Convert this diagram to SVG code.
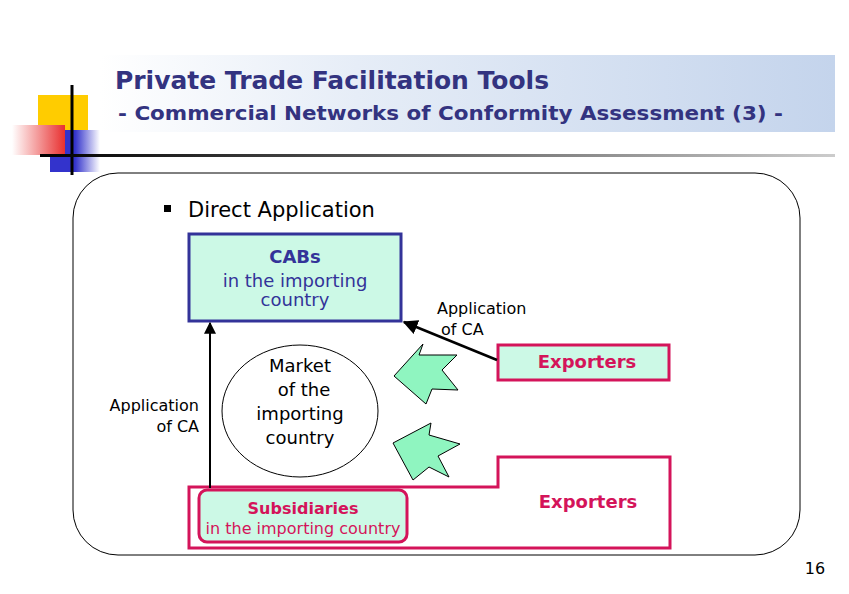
<svg xmlns="http://www.w3.org/2000/svg" width="849" height="594" viewBox="0 0 849 594">
<defs>
<linearGradient id="tb" x1="0" y1="0" x2="1" y2="0"><stop offset="0" stop-color="#fff"/><stop offset="0.35" stop-color="#e6edf7"/><stop offset="1" stop-color="#c4d4ec"/></linearGradient>
<linearGradient id="ln" x1="0" y1="0" x2="1" y2="0"><stop offset="0" stop-color="#000"/><stop offset="1" stop-color="#ccc"/></linearGradient>
<linearGradient id="rd" x1="0" y1="0" x2="1" y2="0"><stop offset="0" stop-color="#fff"/><stop offset="1" stop-color="#e83030"/></linearGradient>
<linearGradient id="bl" x1="0" y1="0" x2="1" y2="0"><stop offset="0.5" stop-color="#3333cc"/><stop offset="1" stop-color="#fff"/></linearGradient>
<marker id="ah" viewBox="0 0 10 10" refX="9" refY="5" markerWidth="6" markerHeight="6" orient="auto"><path d="M0,0L10,5L0,10z" fill="#000"/></marker>
<style>
text{font-family:Tahoma,"DejaVu Sans",sans-serif}
.t{fill:#333380;font-weight:bold}
.nv{fill:#333399}
.pk{fill:#d4145a;font-weight:bold}
.bk{fill:#000}
.ar{fill:#8ff5c0;stroke:#000;stroke-width:1}
</style>
</defs>
<rect width="849" height="594" fill="#fff"/>
<g id="title">
<rect x="100" y="55" width="735" height="77" fill="url(#tb)"/>
<rect x="38" y="95" width="50" height="36" fill="#ffcc00"/>
<rect x="50" y="130" width="50" height="42" fill="url(#bl)"/>
<rect x="12" y="125" width="53" height="30" fill="url(#rd)"/>
<line x1="72" y1="85" x2="72" y2="175" stroke="#000" stroke-width="3"/>
<rect x="40" y="154" width="795" height="3" fill="url(#ln)"/>
<text x="115" y="89" class="t" font-size="24" textLength="434" lengthAdjust="spacingAndGlyphs">Private Trade Facilitation Tools</text>
<text x="118" y="120" class="t" font-size="20" textLength="665" lengthAdjust="spacingAndGlyphs">- Commercial Networks of Conformity Assessment (3) -</text>
</g>
<g id="frame"><rect x="73" y="173" width="727" height="382" rx="45" fill="none" stroke="#000" stroke-width="1"/></g>
<g id="bullet">
<rect x="164" y="205" width="7" height="7" fill="#000"/>
<text x="188" y="217" font-size="21" class="bk">Direct Application</text>
</g>
<g id="cabs">
<rect x="189" y="234" width="212" height="87" fill="#ccf9e6" stroke="#333399" stroke-width="3"/>
<text x="295" y="263" class="nv" font-size="18" font-weight="bold" text-anchor="middle">CABs</text>
<text x="295" y="287" class="nv" font-size="18" text-anchor="middle">in the importing</text>
<text x="295" y="306" class="nv" font-size="18" text-anchor="middle">country</text>
</g>
<g id="market">
<ellipse cx="300" cy="411" rx="78" ry="66" fill="#fff" stroke="#000" stroke-width="1"/>
<text text-anchor="middle" font-size="18" class="bk"><tspan x="300" y="372">Market</tspan><tspan x="304" y="396">of the</tspan><tspan x="300" y="420">importing</tspan><tspan x="300" y="444">country</tspan></text>
</g>
<g id="exporters-outer">
<path d="M189,487H498V457H670V548H189Z" fill="#fff" stroke="#d4145a" stroke-width="3"/>
<text x="588" y="508" class="pk" font-size="18" text-anchor="middle">Exporters</text>
</g>
<g id="subsidiaries">
<rect x="199" y="490" width="208" height="52" rx="8" fill="#ccf9e6" stroke="#d4145a" stroke-width="3"/>
<text x="303" y="514" class="pk" font-size="16" text-anchor="middle">Subsidiaries</text>
<text x="303" y="534" font-size="16" fill="#d4145a" text-anchor="middle">in the importing country</text>
</g>
<g id="exporters-top">
<rect x="498" y="345" width="171" height="35" fill="#ccf9e6" stroke="#d4145a" stroke-width="3"/>
<text x="587" y="368" class="pk" font-size="18" text-anchor="middle">Exporters</text>
</g>
<g id="connectors">
<line x1="210" y1="488" x2="210" y2="323" stroke="#000" stroke-width="2" marker-end="url(#ah)"/>
<line x1="497" y1="360" x2="404" y2="322" stroke="#000" stroke-width="2.5" marker-end="url(#ah)"/>
<polygon class="ar" points="394,376 423,344 419,355 457,355 442,370 458,390 432,389 426,404"/>
<polygon class="ar" points="393,443 431,423 429,435 460,444 438,456 449,477 429,467 413,480"/>
<text font-size="16" class="bk" text-anchor="end"><tspan x="199" y="411">Application</tspan><tspan x="199" y="432">of CA</tspan></text>
<text font-size="16" class="bk"><tspan x="437" y="314">Application</tspan><tspan x="441" y="335">of CA</tspan></text>
</g>
<text x="815" y="574" font-family="Liberation Serif,serif" font-size="16" text-anchor="middle">16</text>
</svg>
